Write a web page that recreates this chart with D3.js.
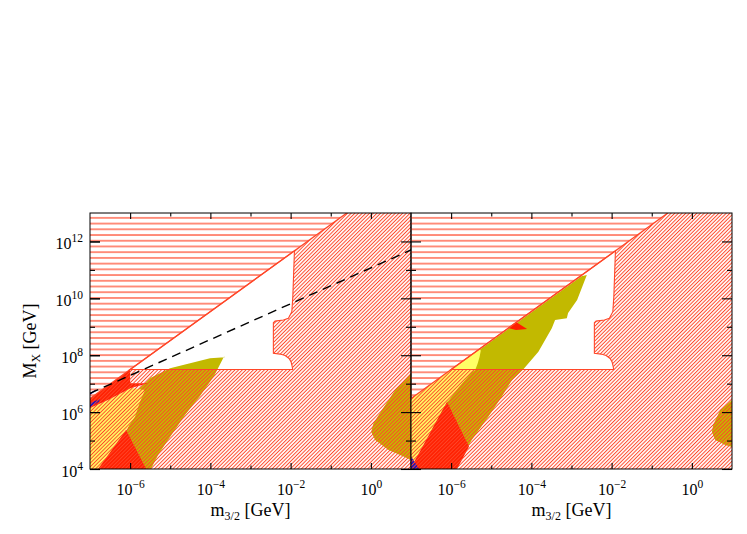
<!DOCTYPE html>
<html><head><meta charset="utf-8">
<script src="https://cdn.jsdelivr.net/npm/d3@7"></script>
<style>body{margin:0;background:#fff}svg{display:block}</style>
</head><body>
<svg id="c" width="747" height="534"></svg>
<script>
// ---- data (all values are log10 of m_3/2 [GeV] and M_X [GeV]) ----
const xTickMajor = [-6, -4, -2, 0];
const xTickMinor = [-5, -3, -1];
const yTickMajor = [4, 6, 8, 10, 12];
const yTickMinor = [5, 7, 9, 11];
const xDomainLog = [-7, 1];
const yDomainLog = [4, 13];

// upper bound line (hatched horizontally above it)
const boundLogM = [-7, -0.6];
const boundLogMX = [6.48, 13.0];

// allowed (white) region
const allowedLogM  = [-6.0, -1.905, -1.945, -1.970, -2.055, -2.18, -2.387, -2.43, -2.43, -2.262, -2.137, -2.037, -1.988, -1.963, -1.95];
const allowedLogMX = [7.50, 11.67, 10.06, 9.53, 9.30, 9.24, 9.20, 9.14, 8.07, 8.04, 7.99, 7.885, 7.76, 7.62, 7.50];

// left panel regions
const L_oliveLogM  = [-3.64, -3.66, -3.908, -4.257, -4.631, -5.005, -5.304, -5.479, -6.25, -6.1, -5.9, -5.8, -5.6, -5.5, -5.005, -4.506, -4.008];
const L_oliveLogMX = [7.93, 7.956, 7.27, 6.567, 5.899, 5.125, 4.492, 4.0, 4.0, 5.3, 6.0, 6.8, 7.05, 7.2, 7.541, 7.717, 7.892];
const L_yellowLogM  = [-7, -6.551, -5.978, -5.628, -5.753, -5.878, -6.045, -6.10, -6.40, -7];
const L_yellowLogMX = [6.145, 6.426, 6.848, 6.778, 6.366, 5.839, 5.487, 5.371, 4.0, 4.0];
const L_redTriLogM  = [-6.10, -5.60, -6.80];
const L_redTriLogMX = [5.37, 4.0, 4.0];
const L_redBlobLogM  = [-7, -6.0, -6.0, -5.55, -5.978, -6.551, -7];
const L_redBlobLogMX = [6.48, 7.50, 7.013, 7.013, 6.848, 6.426, 6.145];
const L_blue1LogM  = [-7, -6.75, -6.78, -7];
const L_blue1LogMX = [6.32, 6.46, 6.36, 6.18];
const L_blue2LogM  = [-7, -6.85, -6.87, -7];
const L_blue2LogMX = [6.66, 6.80, 6.74, 6.60];
const L_blobLogM  = [1.0, 0.606, 0.274, 0.065, 0.007, 0.107, 0.439, 0.855, 1.0];
const L_blobLogMX = [7.375, 6.778, 6.075, 5.607, 5.312, 5.02, 4.668, 4.411, 4.316];
const L_dashLogM  = [-7, 1];
const L_dashLogMX = [6.66, 11.70];

// right panel regions
const R_oliveLogM  = [-2.618, -2.686, -2.860, -3.085, -3.117, -3.409, -3.491, -3.825, -4.200, -4.481, -4.738, -5.072, -5.486, -5.628, -5.903, -6.5, -6.5, -5.6, -2.75];
const R_oliveLogMX = [10.821, 10.575, 9.942, 9.485, 9.299, 9.239, 8.947, 8.124, 7.506, 7.129, 6.542, 5.839, 5.020, 4.668, 4.0, 4.0, 5.8, 7.875, 10.777];
const R_yellowLogM  = [-7, -5.30, -5.26, -5.29, -5.34, -5.40, -5.478, -5.803, -6.052, -6.102, -6.925, -7];
const R_yellowLogMX = [6.48, 8.22, 8.17, 7.95, 7.70, 7.48, 7.411, 6.883, 6.426, 6.356, 4.246, 4.246];
const R_redLogM  = [-6.102, -5.554, -5.853, -6.875, -6.925];
const R_redLogMX = [6.356, 4.791, 4.0, 4.0, 4.246];
const R_spikeLogM  = [-4.581, -4.382, -4.107, -4.382];
const R_spikeLogMX = [8.958, 9.169, 8.923, 8.887];
const R_blueLogM  = [-7, -6.80, -7];
const R_blueLogMX = [4.45, 4.0, 4.0];
const R_blobLogM  = [1.0, 0.706, 0.531, 0.499, 0.58, 0.83, 1.0];
const R_blobLogMX = [6.426, 6.075, 5.547, 5.30, 5.02, 4.84, 4.77];

// ---- styles ----
const OLIVE = "#c2b900", YELLOW = "#ffff66", RED = "#ff1e00", BLUE = "#1010c8", HATCH = "#ff4628";
const FONT = "'Liberation Serif','DejaVu Serif',serif";

const P = v => Math.pow(10, v);
const svg = d3.select("#c");
const defs = svg.append("defs");

// diagonal hatch pattern
const pd = defs.append("pattern").attr("id", "diag").attr("patternUnits", "userSpaceOnUse")
  .attr("width", 2.6).attr("height", 10).attr("patternTransform", "rotate(45)");
pd.append("line").attr("x1", 1.3).attr("x2", 1.3).attr("y1", -1).attr("y2", 11)
  .attr("stroke", HATCH).attr("stroke-width", 1.0);
// horizontal hatch pattern
const ph = defs.append("pattern").attr("id", "horiz").attr("patternUnits", "userSpaceOnUse")
  .attr("width", 10).attr("height", 5.72).attr("y", 215);
ph.append("line").attr("x1", -1).attr("x2", 11).attr("y1", 2.86).attr("y2", 2.86)
  .attr("stroke", HATCH).attr("stroke-width", 1.2);

const yS = d3.scaleLog().domain(yDomainLog.map(P)).range([469, 213]);
const panelRanges = [[90, 411], [411, 732]];
const line = d3.line();

function pts(xS, lm, lM) { return lm.map((v, i) => [xS(P(v)), yS(P(lM[i]))]); }
function polyD(xS, lm, lM) { return line(pts(xS, lm, lM)) + "Z"; }

const panels = [
  { olive: [L_oliveLogM, L_oliveLogMX], yellow: [L_yellowLogM, L_yellowLogMX],
    reds: [[L_redTriLogM, L_redTriLogMX], [L_redBlobLogM, L_redBlobLogMX]],
    blues: [[L_blue1LogM, L_blue1LogMX], [L_blue2LogM, L_blue2LogMX]],
    blob: [L_blobLogM, L_blobLogMX], dash: [L_dashLogM, L_dashLogMX] },
  { olive: [R_oliveLogM, R_oliveLogMX], yellow: [R_yellowLogM, R_yellowLogMX],
    reds: [[R_redLogM, R_redLogMX], [R_spikeLogM, R_spikeLogMX]],
    blues: [[R_blueLogM, R_blueLogMX]],
    blob: [R_blobLogM, R_blobLogMX], dash: null }
];

panels.forEach((pn, i) => {
  const [x0, x1] = panelRanges[i];
  const xS = d3.scaleLog().domain(xDomainLog.map(P)).range([x0, x1]);
  const cid = "clip" + i;
  defs.append("clipPath").attr("id", cid).append("rect")
    .attr("x", x0).attr("y", 213).attr("width", x1 - x0).attr("height", 256);

  // hatched region (below bound line) minus allowed region
  const outerLm = [xDomainLog[0], xDomainLog[1], xDomainLog[1], boundLogM[1], boundLogM[0]];
  const outerLM = [yDomainLog[0], yDomainLog[0], yDomainLog[1], boundLogMX[1], boundLogMX[0]];
  defs.append("clipPath").attr("id", "dclip" + i).append("path")
    .attr("clip-rule", "evenodd")
    .attr("d", polyD(xS, outerLm, outerLM) + polyD(xS, allowedLogM, allowedLogMX));
  defs.append("clipPath").attr("id", "hclip" + i).append("path")
    .attr("d", polyD(xS, [boundLogM[0], boundLogM[1], xDomainLog[0]], [boundLogMX[0], boundLogMX[1], yDomainLog[1]]));

  const g = svg.append("g").attr("clip-path", `url(#${cid})`);
  g.append("path").attr("d", polyD(xS, pn.olive[0], pn.olive[1])).attr("fill", OLIVE);
  g.append("path").attr("d", polyD(xS, pn.blob[0], pn.blob[1])).attr("fill", OLIVE);
  g.append("path").attr("d", polyD(xS, pn.yellow[0], pn.yellow[1])).attr("fill", YELLOW);
  pn.reds.forEach(r => g.append("path").attr("d", polyD(xS, r[0], r[1])).attr("fill", RED));
  pn.blues.forEach(r => g.append("path").attr("d", polyD(xS, r[0], r[1])).attr("fill", BLUE));

  g.append("g").attr("clip-path", `url(#dclip${i})`).append("rect")
    .attr("x", x0).attr("y", 213).attr("width", x1 - x0).attr("height", 256).attr("fill", "url(#diag)");
  g.append("g").attr("clip-path", `url(#hclip${i})`).append("rect")
    .attr("x", x0).attr("y", 213).attr("width", x1 - x0).attr("height", 256).attr("fill", "url(#horiz)");

  // outlines
  g.append("path").attr("d", line(pts(xS, boundLogM, boundLogMX))).attr("fill", "none")
    .attr("stroke", HATCH).attr("stroke-width", 1.3);
  g.append("path").attr("d", polyD(xS, allowedLogM, allowedLogMX)).attr("fill", "none")
    .attr("stroke", HATCH).attr("stroke-width", 1.1);

  if (pn.dash) {
    g.append("path").attr("d", line(pts(xS, pn.dash[0], pn.dash[1]))).attr("fill", "none")
      .attr("stroke", "#000").attr("stroke-width", 1.4).attr("stroke-dasharray", "9,6");
  }

  // frame
  svg.append("rect").attr("x", x0).attr("y", 213).attr("width", x1 - x0).attr("height", 256)
    .attr("fill", "none").attr("stroke", "#000").attr("stroke-width", 1);

  // ticks
  const tickG = (axis, tr) => {
    const a = svg.append("g").attr("transform", tr).call(axis);
    a.select(".domain").remove();
    a.selectAll("line").attr("stroke", "#000").attr("stroke-width", 1.1);
    return a;
  };
  const fmtNone = () => "";
  tickG(d3.axisBottom(xS).tickValues(xTickMinor.map(P)).tickSizeInner(-3.5).tickSizeOuter(0).tickFormat(fmtNone), "translate(0,469)");
  tickG(d3.axisTop(xS).tickValues(xTickMinor.map(P)).tickSizeInner(-3.5).tickSizeOuter(0).tickFormat(fmtNone), "translate(0,213)");
  tickG(d3.axisTop(xS).tickValues(xTickMajor.map(P)).tickSizeInner(-6).tickSizeOuter(0).tickFormat(fmtNone), "translate(0,213)");
  tickG(d3.axisLeft(yS).tickValues(yTickMinor.map(P)).tickSizeInner(-5).tickSizeOuter(0).tickFormat(fmtNone), `translate(${x0},0)`);
  tickG(d3.axisLeft(yS).tickValues(yTickMajor.map(P)).tickSizeInner(-10).tickSizeOuter(0).tickFormat(fmtNone), `translate(${x0},0)`);
  tickG(d3.axisRight(yS).tickValues(yTickMinor.map(P)).tickSizeInner(-5).tickSizeOuter(0).tickFormat(fmtNone), `translate(${x1},0)`);
  tickG(d3.axisRight(yS).tickValues(yTickMajor.map(P)).tickSizeInner(-10).tickSizeOuter(0).tickFormat(fmtNone), `translate(${x1},0)`);

  const bx = tickG(d3.axisBottom(xS).tickValues(xTickMajor.map(P)).tickSizeInner(-6).tickSizeOuter(0).tickPadding(15), "translate(0,469)");
  supLabels(bx);
  if (i === 0) {
    const ly = tickG(d3.axisLeft(yS).tickValues(yTickMajor.map(P)).tickSizeInner(-10).tickSizeOuter(0).tickPadding(7), `translate(${x0},0)`);
    supLabels(ly);
    ly.selectAll("text").attr("dy", "0.45em");
  }

  // x title
  const xt = svg.append("text").attr("x", (x0 + x1) / 2).attr("y", 516).attr("text-anchor", "middle")
    .attr("font-family", FONT).attr("font-size", 18).attr("fill", "#000");
  xt.append("tspan").text("m");
  xt.append("tspan").attr("font-size", 12).attr("dy", 4).text("3/2");
  xt.append("tspan").attr("dy", -4).text(" [GeV]");
});

function supLabels(a) {
  a.attr("font-family", FONT).attr("font-size", 16);
  a.selectAll("text").attr("fill", "#000").each(function (d) {
    const t = d3.select(this);
    const e = Math.round(Math.log10(d));
    t.text(null);
    t.append("tspan").text("10");
    t.append("tspan").attr("dy", "-0.62em").attr("font-size", 11.5).text(e < 0 ? "\u2212" + (-e) : String(e));
  });
}

// y title
const yt = svg.append("text").attr("transform", "translate(36,341) rotate(-90)").attr("text-anchor", "middle")
  .attr("font-family", FONT).attr("font-size", 18).attr("fill", "#000");
yt.append("tspan").text("M");
yt.append("tspan").attr("font-size", 12).attr("dy", 4).text("X");
yt.append("tspan").attr("dy", -4).text(" [GeV]");
</script>
</body></html>
